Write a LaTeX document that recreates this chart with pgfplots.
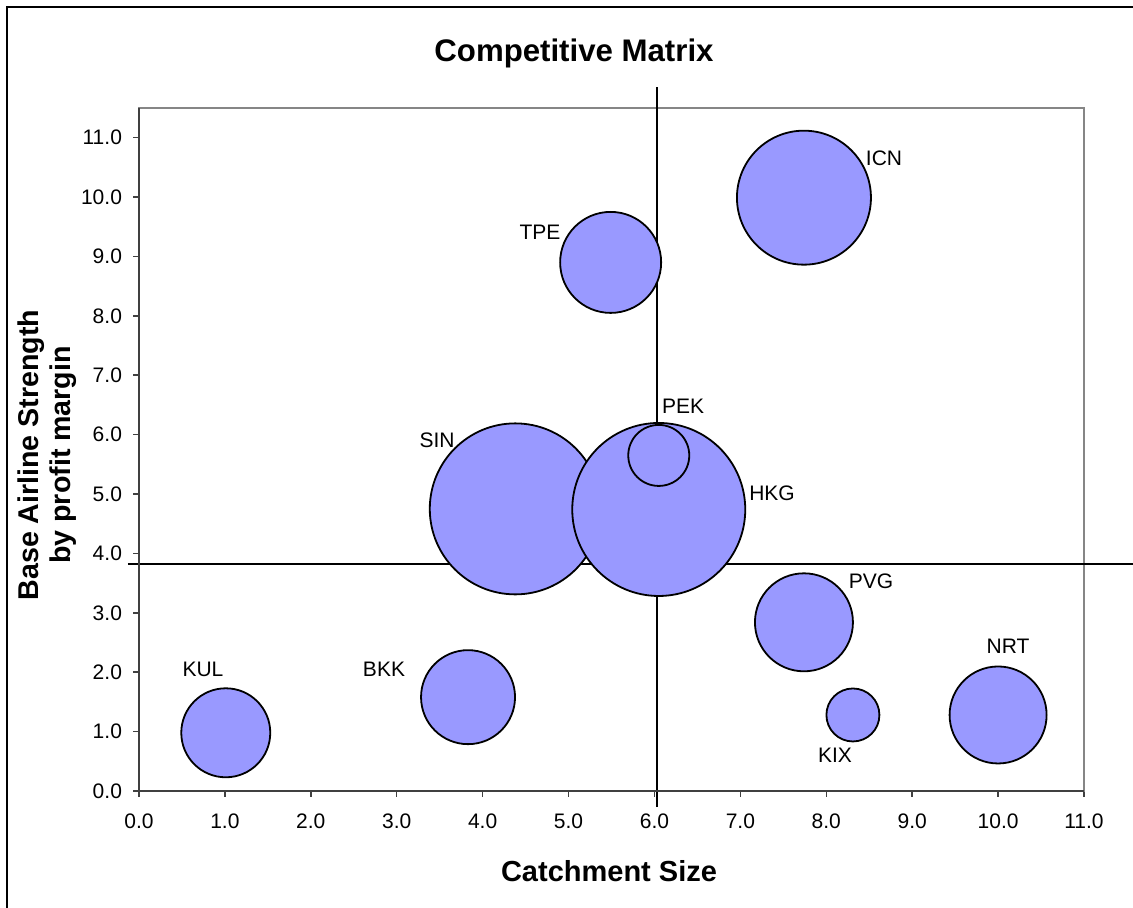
\documentclass[border=0pt]{standalone}
\usepackage{pgfplots}
\pgfplotsset{compat=1.18}
\usepackage{pgfplotstable}
\usepackage{fontspec}
\setmainfont{Liberation Sans}
\definecolor{bubble}{HTML}{9999FF}
\definecolor{axisdark}{HTML}{404040}
\definecolor{boxgray}{HTML}{868686}

% x = catchment size, y = base airline strength, r = bubble radius (pt)
\pgfplotstableread{
name x y r
SIN 4.38 4.75 42.75
HKG 6.05 4.74 43.25
ICN 7.74 9.99 33.5
TPE 5.49 8.90 25.25
PVG 7.74 2.84 24.5
NRT 10.0 1.28 24.25
BKK 3.83 1.58 23.5
KUL 1.01 0.98 22.25
KIX 8.31 1.28 13.25
PEK 6.05 5.65 15.25
}\bubbles

\newcommand{\pp}[2]{({(#1)*0.5pt},{(908-(#2))*0.5pt})}

\begin{document}
\begin{tikzpicture}
\useasboundingbox (0,0) rectangle (566.5pt,454pt);
\fill[white] (0,0) rectangle (566.5pt,454pt);
\draw[black, line width=1pt] (3.67pt,0) -- (3.67pt,450.6pt) -- (566.5pt,450.6pt);

\begin{axis}[
  at={(69.5pt,58.5pt)}, anchor=south west,
  scale only axis, width=472.5pt, height=341.5pt,
  xmin=0, xmax=11, ymin=0, ymax=11.5,
  xtick={0,...,11}, ytick={0,...,11},
  xtick pos=bottom, ytick pos=left, tick align=outside,
  major tick length=3pt,
  tick style={axisdark, line width=0.75pt},
  axis line style={boxgray, line width=0.75pt},
  /pgf/number format/fixed,
  /pgf/number format/fixed zerofill,
  /pgf/number format/precision=1,
  /pgf/number format/assume math mode=true,
  tick label style={font=\fontsize{10.5}{12}\selectfont, text=black},
  xticklabel style={yshift=-5pt},
  yticklabel style={xshift=-2pt},
  clip=false,
]
\addplot[scatter, only marks, mark=*,
  scatter/use mapped color={draw=black, fill=bubble},
  visualization depends on={\thisrow{r} \as \bubr},
  scatter/@pre marker code/.append style={/tikz/mark size=\bubr pt},
  mark options={line width=0.9pt}
] table[x=x, y=y] {\bubbles};
\addplot[black, line width=1pt, mark=none] coordinates {(6.03,-0.27) (6.03,11.86)};
\addplot[black, line width=1pt, mark=none] coordinates {(-0.13,3.82) (11.6,3.82)};
\draw[axisdark, line width=0.9pt] (rel axis cs:0,1) -- (rel axis cs:0,0) -- (rel axis cs:1,0);
\end{axis}

\node[font=\bfseries\fontsize{15.6}{18}\selectfont] at \pp{574}{53} {Competitive Matrix};
\node[font=\bfseries\fontsize{14.5}{17}\selectfont] at \pp{609}{871} {Catchment Size};
\node[rotate=90, align=center, font=\bfseries\fontsize{14.3}{16}\selectfont] at \pp{47}{455} {Base Airline Strength\\by profit margin};

\begin{scope}[every node/.style={font=\fontsize{10.5}{12}\selectfont, inner sep=0pt}]
\node at \pp{203}{669} {KUL};
\node at \pp{384}{669} {BKK};
\node at \pp{437}{440} {SIN};
\node at \pp{772}{493} {HKG};
\node at \pp{683}{406} {PEK};
\node at \pp{540}{232} {TPE};
\node at \pp{884}{158} {ICN};
\node at \pp{871}{581} {PVG};
\node at \pp{1008}{646} {NRT};
\node at \pp{835}{755} {KIX};
\end{scope}
\end{tikzpicture}
\end{document}
